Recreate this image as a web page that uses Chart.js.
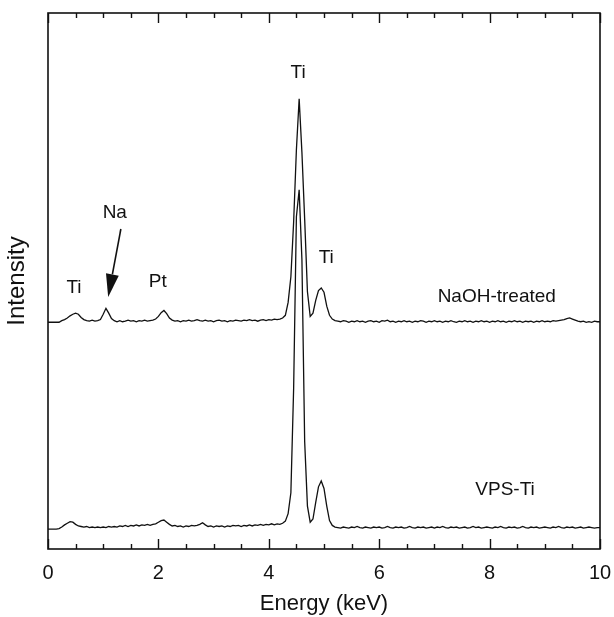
<!DOCTYPE html>
<html>
<head>
<meta charset="utf-8">
<script src="https://cdn.jsdelivr.net/npm/chart.js@4.4.1/dist/chart.umd.min.js"></script>
<style>
  body { margin:0; background:#fff; }
  canvas { display:block; }
</style>
</head>
<body>
<canvas id="grafica" width="614" height="617"></canvas>
<script>
// =========================
// DATA
// =========================
const energyKeV = [
  0,0.05,0.1,0.15,0.2,0.25,0.3,0.35,0.4,0.45,0.5,0.55,0.6,0.65,0.7,0.75,0.8,0.85,0.9,0.95,
  1,1.05,1.1,1.15,1.2,1.25,1.3,1.35,1.4,1.45,1.5,1.55,1.6,1.65,1.7,1.75,1.8,1.85,1.9,1.95,
  2,2.05,2.1,2.15,2.2,2.25,2.3,2.35,2.4,2.45,2.5,2.55,2.6,2.65,2.7,2.75,2.8,2.85,2.9,2.95,
  3,3.05,3.1,3.15,3.2,3.25,3.3,3.35,3.4,3.45,3.5,3.55,3.6,3.65,3.7,3.75,3.8,3.85,3.9,3.95,
  4,4.05,4.1,4.15,4.2,4.25,4.3,4.35,4.4,4.45,4.5,4.55,4.6,4.65,4.7,4.75,4.8,4.85,4.9,4.95,
  5,5.05,5.1,5.15,5.2,5.25,5.3,5.35,5.4,5.45,5.5,5.55,5.6,5.65,5.7,5.75,5.8,5.85,5.9,5.95,
  6,6.05,6.1,6.15,6.2,6.25,6.3,6.35,6.4,6.45,6.5,6.55,6.6,6.65,6.7,6.75,6.8,6.85,6.9,6.95,
  7,7.05,7.1,7.15,7.2,7.25,7.3,7.35,7.4,7.45,7.5,7.55,7.6,7.65,7.7,7.75,7.8,7.85,7.9,7.95,
  8,8.05,8.1,8.15,8.2,8.25,8.3,8.35,8.4,8.45,8.5,8.55,8.6,8.65,8.7,8.75,8.8,8.85,8.9,8.95,
  9,9.05,9.1,9.15,9.2,9.25,9.3,9.35,9.4,9.45,9.5,9.55,9.6,9.65,9.7,9.75,9.8,9.85,9.9,9.95,
  10
];

// NaOH-treated spectrum (offset upwards)
const naohCounts = [
  42.3,42.3,42.3,42.3,42.3,42.6,42.8,43.1,43.5,43.8,44.0,43.8,43.2,42.8,42.6,42.5,42.7,42.5,42.6,42.8,
  43.8,44.9,44.0,43.0,42.6,42.4,42.6,42.4,42.5,42.7,42.5,42.6,42.4,42.6,42.5,42.7,42.5,42.6,42.7,42.9,
  43.4,44.1,44.5,43.9,43.1,42.7,42.5,42.6,42.4,42.6,42.5,42.7,42.5,42.6,42.8,42.6,42.5,42.7,42.5,42.6,
  42.4,42.6,42.7,42.5,42.6,42.4,42.6,42.5,42.7,42.6,42.5,42.7,42.6,42.8,42.6,42.7,42.5,42.7,42.8,42.6,
  42.8,42.7,42.9,42.8,42.9,43.1,43.6,46.0,50.8,61.0,74.5,84.0,74.0,61.5,48.0,43.4,44.0,46.4,48.2,48.7,
  47.9,45.3,43.6,42.9,42.6,42.5,42.4,42.6,42.5,42.3,42.5,42.4,42.6,42.4,42.5,42.3,42.5,42.6,42.4,42.5,
  42.3,42.6,42.5,42.7,42.4,42.5,42.3,42.5,42.4,42.6,42.4,42.5,42.3,42.5,42.4,42.6,42.5,42.3,42.5,42.4,
  42.6,42.4,42.5,42.3,42.5,42.4,42.6,42.4,42.3,42.5,42.4,42.6,42.4,42.5,42.3,42.5,42.4,42.6,42.4,42.5,
  42.3,42.5,42.4,42.6,42.4,42.5,42.3,42.5,42.4,42.6,42.4,42.5,42.3,42.5,42.4,42.5,42.3,42.5,42.4,42.6,
  42.4,42.5,42.4,42.6,42.5,42.6,42.7,42.8,43.0,43.1,42.9,42.7,42.5,42.4,42.5,42.3,42.4,42.3,42.5,42.4,
  42.4
];

// VPS-Ti spectrum
const vpsCounts = [
  3.7,3.7,3.7,3.7,3.8,4.1,4.5,4.8,5.1,5.0,4.6,4.3,4.2,4.1,4.2,4.0,4.1,4.0,4.1,4.0,
  4.1,4.0,4.2,4.1,4.2,4.1,4.3,4.2,4.4,4.2,4.4,4.3,4.5,4.3,4.5,4.4,4.6,4.4,4.6,4.7,
  5.0,5.3,5.4,5.0,4.6,4.3,4.4,4.2,4.3,4.1,4.3,4.2,4.4,4.3,4.4,4.6,4.9,4.5,4.2,4.3,
  4.1,4.3,4.2,4.3,4.1,4.3,4.2,4.4,4.3,4.4,4.2,4.4,4.3,4.5,4.3,4.5,4.4,4.6,4.4,4.6,
  4.5,4.7,4.5,4.7,4.6,4.8,5.2,6.6,10.5,30.0,62.0,67.0,54.0,20.0,8.0,5.0,5.6,8.7,11.6,12.7,
  11.3,8.0,5.3,4.4,4.1,4.0,3.9,4.1,4.0,3.9,4.1,4.0,4.2,4.0,3.9,4.1,4.0,3.9,4.1,4.0,
  4.1,3.9,4.0,4.2,4.0,3.9,4.1,4.0,4.1,3.9,4.0,4.2,4.0,3.9,4.1,4.0,4.1,3.9,4.0,4.1,
  3.9,4.1,4.0,4.2,4.0,3.9,4.1,4.0,4.1,3.9,4.0,4.1,3.9,4.0,4.2,4.0,4.1,3.9,4.0,4.1,
  4.0,3.9,4.1,4.0,4.2,4.0,3.9,4.1,4.0,4.1,3.9,4.0,4.2,4.0,3.9,4.1,4.0,4.1,3.9,4.0,
  4.1,4.0,3.9,4.1,4.0,4.2,4.0,3.9,4.1,4.0,4.1,3.9,4.0,4.1,3.9,4.0,4.1,4.0,3.9,4.0,
  4.0
];

// peak labels: text, energy (keV), intensity
const labelText = ['Ti','Na','Pt','Ti','Ti','NaOH-treated','VPS-Ti'];
const labelKeV  = [0.47,1.21,1.99,4.53,5.04,8.13,8.28];
const labelY    = [48.7,62.7,49.8,88.8,54.3,47.0,11.0];

// Na arrow: from (keV, y) to tip (keV, y)
const arrowFrom = [1.32,59.7];
const arrowTip  = [1.09,47.0];

const FONT = "'Liberation Sans', Arial, Helvetica, sans-serif";

// =========================
// PLUGIN: frame, inward ticks, labels
// =========================
const decoraciones = {
  id:'decoraciones',
  afterDatasetsDraw(chart){
    const {ctx, chartArea:a, scales:{x,y}} = chart;
    ctx.save();
    ctx.strokeStyle = '#111';
    ctx.lineWidth = 1.6;
    ctx.strokeRect(a.left, a.top, a.right-a.left, a.bottom-a.top);

    // inward ticks every 0.5 keV, major every 2
    ctx.lineWidth = 1.4;
    for(let v=0; v<=10.001; v+=0.5){
      const px = Math.round(x.getPixelForValue(v))+0.5;
      const len = (Math.abs(v%2) < 0.01) ? 10 : 5;
      ctx.beginPath();
      ctx.moveTo(px, a.bottom); ctx.lineTo(px, a.bottom-len);
      ctx.moveTo(px, a.top); ctx.lineTo(px, a.top+len);
      ctx.stroke();
    }

    // labels
    ctx.fillStyle = '#111';
    ctx.font = '19px ' + FONT;
    ctx.textAlign = 'center';
    ctx.textBaseline = 'middle';
    labelText.forEach((t,i)=>{
      ctx.fillText(t, x.getPixelForValue(labelKeV[i]), y.getPixelForValue(labelY[i]));
    });

    // arrow
    const x0 = x.getPixelForValue(arrowFrom[0]), y0 = y.getPixelForValue(arrowFrom[1]);
    const x1 = x.getPixelForValue(arrowTip[0]),  y1 = y.getPixelForValue(arrowTip[1]);
    const ang = Math.atan2(y1-y0, x1-x0);
    const headLen = 23, headW = 6.5;
    const bx = x1 - headLen*Math.cos(ang), by = y1 - headLen*Math.sin(ang);
    ctx.lineWidth = 1.6;
    ctx.beginPath();
    ctx.moveTo(x0,y0); ctx.lineTo(bx,by);
    ctx.stroke();
    ctx.beginPath();
    ctx.moveTo(x1,y1);
    ctx.lineTo(bx + headW*Math.sin(ang), by - headW*Math.cos(ang));
    ctx.lineTo(bx - headW*Math.sin(ang), by + headW*Math.cos(ang));
    ctx.closePath();
    ctx.fill();
    ctx.restore();
  }
};

// =========================
// CHART
// =========================
const serie = vals => energyKeV.map((e,i)=>({x:e, y:vals[i]}));

new Chart(document.getElementById('grafica'),{
  type:'line',
  data:{
    datasets:[
      {label:'NaOH-treated', data:serie(naohCounts), borderColor:'#111', borderWidth:1.3, pointRadius:0, tension:0},
      {label:'VPS-Ti', data:serie(vpsCounts), borderColor:'#111', borderWidth:1.3, pointRadius:0, tension:0}
    ]
  },
  options:{
    responsive:false,
    animation:false,
    layout:{padding:{top:13, right:14, left:0, bottom:0}},
    plugins:{legend:{display:false}, tooltip:{enabled:false}},
    scales:{
      x:{
        type:'linear', min:0, max:10,
        ticks:{stepSize:2, color:'#111', padding:12, font:{family:FONT, size:20}, maxRotation:0},
        grid:{display:false, drawTicks:false},
        border:{display:false},
        title:{display:true, text:'Energy (keV)', color:'#111', font:{family:FONT, size:22}, padding:{top:0, bottom:0}},
        afterFit(s){ s.height = 68; s.paddingLeft = 0; s.paddingRight = 0; }
      },
      y:{
        min:0, max:100,
        ticks:{display:false},
        grid:{display:false, drawTicks:false},
        border:{display:false},
        title:{display:true, text:'Intensity', color:'#111', font:{family:FONT, size:24}, padding:{top:3, bottom:0}},
        afterFit(s){ s.width = 48; s.paddingTop = 0; s.paddingBottom = 0; }
      }
    }
  },
  plugins:[decoraciones]
});
</script>
</body>
</html>
